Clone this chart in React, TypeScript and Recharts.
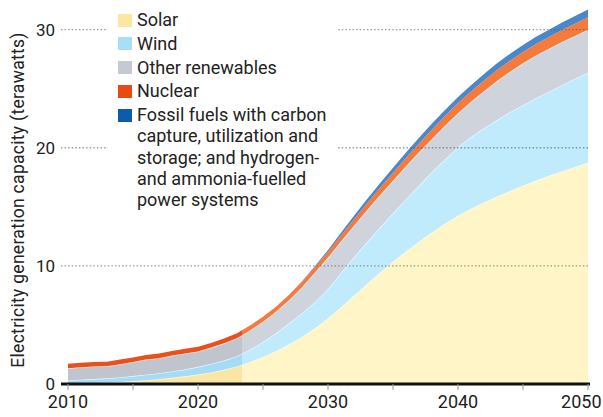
import React from "react"
import { AreaChart, Area, XAxis, YAxis, ReferenceLine } from "recharts"

const years = [
  2010, 2011, 2012, 2013, 2014, 2015, 2016, 2017, 2018, 2019,
  2020, 2021, 2022, 2023, 2024, 2025, 2026, 2027, 2028, 2029,
  2030, 2031, 2032, 2033, 2034, 2035, 2036, 2037, 2038, 2039,
  2040, 2041, 2042, 2043, 2044, 2045, 2046, 2047, 2048, 2049, 2050,
]

// installed capacity, TW
const solar = [
  0.04, 0.06, 0.09, 0.12, 0.17, 0.23, 0.31, 0.41, 0.52, 0.65,
  0.8, 0.98, 1.2, 1.48, 1.85, 2.28, 2.78, 3.35, 3.98, 4.72,
  5.55, 6.5, 7.48, 8.46, 9.42, 10.34, 11.22, 12.05, 12.83, 13.56,
  14.25, 14.83, 15.37, 15.87, 16.34, 16.79, 17.22, 17.62, 18.0, 18.36, 18.72,
]
const wind = [
  0.28, 0.31, 0.33, 0.36, 0.39, 0.44, 0.48, 0.51, 0.54, 0.57,
  0.65, 0.72, 0.78, 0.87, 1.05, 1.27, 1.52, 1.8, 2.02, 2.23,
  2.5, 2.9, 3.27, 3.54, 3.83, 4.11, 4.43, 4.75, 5.12, 5.44,
  5.8, 6.07, 6.28, 6.48, 6.66, 6.81, 6.98, 7.13, 7.3, 7.49, 7.63,
]
const otherRenewables = [
  1.01, 1.05, 1.06, 1.02, 1.12, 1.19, 1.28, 1.27, 1.35, 1.37,
  1.31, 1.38, 1.46, 1.53, 1.63, 1.73, 1.81, 1.94, 2.2, 2.49,
  2.65, 2.66, 2.65, 2.71, 2.72, 2.75, 2.78, 2.81, 2.8, 2.86,
  2.88, 2.99, 3.14, 3.31, 3.44, 3.55, 3.62, 3.64, 3.66, 3.62, 3.64,
]
const nuclear = [
  0.38, 0.38, 0.38, 0.38, 0.39, 0.39, 0.39, 0.39, 0.39, 0.39,
  0.39, 0.4, 0.41, 0.42, 0.42, 0.42, 0.43, 0.44, 0.45, 0.47,
  0.5, 0.52, 0.55, 0.59, 0.64, 0.68, 0.72, 0.76, 0.8, 0.83,
  0.85, 0.87, 0.9, 0.92, 0.93, 0.95, 0.97, 0.99, 1.01, 1.03, 1.05,
]
const fossilCcs = [
  0, 0, 0, 0, 0, 0, 0, 0, 0, 0,
  0, 0, 0, 0, 0, 0, 0.01, 0.02, 0.05, 0.09,
  0.15, 0.22, 0.3, 0.35, 0.39, 0.42, 0.45, 0.48, 0.5, 0.51,
  0.52, 0.54, 0.56, 0.57, 0.58, 0.6, 0.61, 0.62, 0.63, 0.65, 0.66,
]

const xTicks = [2010, 2015, 2020, 2025, 2030, 2035, 2040, 2045, 2050]
const yTicks = [0, 10, 20, 30]
const gridLevels = [10, 20, 30]
const projectionStart = 2023.4

const data = years.map((year, i) => ({
  year,
  solar: solar[i],
  wind: wind[i],
  other: otherRenewables[i],
  nuclear: nuclear[i],
  fossil: fossilCcs[i],
}))

const series = [
  { key: "solar", label: ["Solar"], swatch: "#fce7a2", hist: "#fbe5a3", proj: "#fff5c6", line: true },
  { key: "wind", label: ["Wind"], swatch: "#a9def7", hist: "#a5dcf5", proj: "#bfebfc", line: true },
  { key: "other", label: ["Other renewables"], swatch: "#c5cad2", hist: "#c0c4cd", proj: "#cfd4dc", line: true },
  { key: "nuclear", label: ["Nuclear"], swatch: "#e84a12", hist: "#e8501c", proj: "#f47b3b", line: false },
  {
    key: "fossil",
    label: [
      "Fossil fuels with carbon",
      "capture, utilization and",
      "storage; and hydrogen-",
      "and ammonia-fuelled",
      "power systems",
    ],
    swatch: "#0c5bad",
    hist: "#1c5fb0",
    proj: "#4a87cb",
    line: false,
  },
]

const FONT = "Roboto, 'Noto Sans', sans-serif"
const TEXT = "#222"

// where the historical colours hand over to the projection colours
const split = (projectionStart - years[0]) / (years[years.length - 1] - years[0])

// decade labels only; the last one is pulled in so it stays on the page
function YearTick(props: any) {
  const { x, y, payload } = props
  const v = payload.value as number
  if (v % 10 !== 0) return null
  const last = v === xTicks[xTicks.length - 1]
  return (
    <text
      x={last ? x + 13.5 : x}
      y={y}
      dy="0.71em"
      textAnchor={last ? "end" : "middle"}
      fill={TEXT}
      fontSize={18}
      fontFamily={FONT}
    >
      {v}
    </text>
  )
}

function KeyBox() {
  return (
    <div
      style={{
        position: "absolute",
        left: 108,
        top: 4,
        width: 228,
        paddingTop: 5,
        paddingBottom: 4,
        background: "#fff",
        fontFamily: FONT,
        fontSize: 18,
        color: TEXT,
      }}
    >
      {series.map((s) => (
        <div key={s.key} style={{ display: "flex", alignItems: "flex-start", marginBottom: 2.5 }}>
          <div style={{ width: 14, height: 13, background: s.swatch, marginLeft: 10, marginTop: 4.5, flex: "none" }} />
          <div style={{ marginLeft: 5, lineHeight: "21.25px" }}>
            {s.label.map((l) => (
              <div key={l}>{l}</div>
            ))}
          </div>
        </div>
      ))}
    </div>
  )
}

export default function App() {
  return (
    <div style={{ position: "absolute", left: 0, top: 0, width: 603, height: 417, background: "#fff", fontFamily: FONT }}>
      <AreaChart width={603} height={417} data={data} margin={{ top: 6, right: 13, bottom: 0, left: 0 }}>
        <defs>
          {series.map((s) => (
            <linearGradient key={s.key} id={`fill-${s.key}`} x1="0" y1="0" x2="1" y2="0">
              <stop offset={split} stopColor={s.hist} />
              <stop offset={split} stopColor={s.proj} />
            </linearGradient>
          ))}
        </defs>
        <XAxis
          dataKey="year"
          type="number"
          domain={[2010, 2050]}
          ticks={xTicks}
          interval={0}
          padding={{ left: 7, right: 2 }}
          height={33}
          axisLine={{ stroke: "#111", strokeWidth: 3 }}
          tickLine={{ stroke: "#999" }}
          tickSize={6}
          tickMargin={5}
          tick={<YearTick />}
        />
        <YAxis
          type="number"
          domain={[0, 32]}
          ticks={yTicks}
          width={61}
          axisLine={false}
          tickLine={false}
          tickSize={6}
          tickMargin={0}
          tick={{ fill: TEXT, fontSize: 17, fontFamily: FONT }}
          label={{
            value: "Electricity generation capacity (terawatts)",
            angle: -90,
            position: "center",
            dx: -12.5,
            dy: 5,
            style: { fill: TEXT, fontSize: 17.5, letterSpacing: 0.3, fontFamily: FONT },
          }}
        />
        {series.map((s) => (
          <Area
            key={s.key}
            dataKey={s.key}
            stackId="cap"
            type="linear"
            fill={`url(#fill-${s.key})`}
            fillOpacity={1}
            stroke={s.line ? "#ffffff" : "none"}
            strokeOpacity={0.75}
            strokeWidth={1.2}
            isAnimationActive={false}
            dot={false}
            activeDot={false}
          />
        ))}
        {gridLevels.map((v) => (
          <ReferenceLine key={v} y={v} stroke="#555" strokeOpacity={0.6} strokeWidth={1.4} strokeDasharray="1.4 2.2" />
        ))}
      </AreaChart>
      <KeyBox />
    </div>
  )
}
